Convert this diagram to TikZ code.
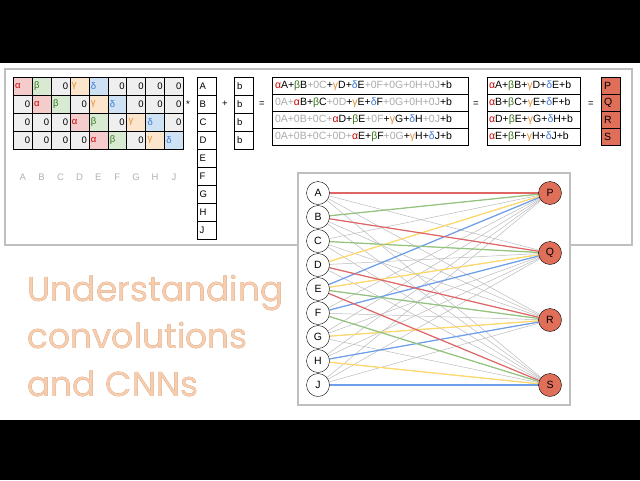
\documentclass[tikz,border=0pt]{standalone}
\usepackage{fontspec}
\setmainfont{Liberation Sans}
\newfontfamily\titlefont{Poppins}
\usepackage[outline]{contour}
\contourlength{0.6pt}
\definecolor{ca}{HTML}{CC0000}\definecolor{cb}{HTML}{38761D}
\definecolor{cg}{HTML}{E69138}\definecolor{cd}{HTML}{3C78D8}
\definecolor{cz}{HTML}{AAAAAA}
\definecolor{fa}{HTML}{F4CCCC}\definecolor{fb}{HTML}{D9EAD3}
\definecolor{fg}{HTML}{FCE5CD}\definecolor{fd}{HTML}{CFE2F3}\definecolor{fz}{HTML}{EFEFEF}
\definecolor{ea}{HTML}{E06666}\definecolor{eb}{HTML}{93C47D}
\definecolor{eg}{HTML}{FFD966}\definecolor{ed}{HTML}{6D9EEB}\definecolor{ez}{HTML}{BBBBBB}
\definecolor{salmon}{HTML}{E06F5A}\definecolor{ttl}{HTML}{C0743F}\definecolor{ttf}{HTML}{F6CDAE}
\newcommand{\A}{\textcolor{ca}{α}}\newcommand{\B}{\textcolor{cb}{β}}
\newcommand{\G}{\textcolor{cg}{γ}}\newcommand{\D}{\textcolor{cd}{δ}}
\newcommand{\Z}[1]{\textcolor{cz}{#1}}
\expandafter\def\csname cva\endcsname{\textcolor{ca}{α}}
\expandafter\def\csname cvb\endcsname{\textcolor{cb}{β}}
\expandafter\def\csname cvg\endcsname{\textcolor{cg}{γ}}
\expandafter\def\csname cvd\endcsname{\textcolor{cd}{δ}}
\expandafter\def\csname cvz\endcsname{\hfill 0}
\newcommand{\ttline}[1]{\contour{ttl}{\textcolor{ttf}{#1}}}
\begin{document}
\begin{tikzpicture}[x=1pt,y=-1pt,font=\fontsize{9.5}{10}\selectfont,
  cell/.style={draw=black,line width=0.6pt,minimum width=18.9pt,minimum height=18pt,inner sep=1.5pt,anchor=center,text width=15pt,align=left},
  vec/.style={draw=black,line width=0.6pt,minimum width=19pt,minimum height=18pt,inner sep=2pt,text width=14pt,align=left},
  row/.style={draw=black,line width=0.6pt,minimum height=17pt,inner sep=2pt,align=left,font=\fontsize{10.5}{11}\selectfont},
  lnode/.style={circle,draw=black,fill=white,minimum size=23pt,inner sep=0pt,font=\fontsize{10.5}{10}\selectfont},
  rnode/.style={circle,draw=black,fill=salmon,minimum size=23pt,inner sep=0pt,font=\fontsize{10.5}{10}\selectfont},
  edge/.style={line width=1.2pt},
  op/.style={font=\fontsize{9.5}{10}\selectfont}]
\useasboundingbox (0,0) rectangle (640,480);
\fill[black] (0,0) rectangle (640,480);
\fill[white] (0,63) rectangle (640,420);
\draw[black!25,line width=1.2pt] (5,69) rectangle (632,245);
\fill[white] (6,70) rectangle (631,244);
% matrix
\foreach \r/\row in {0/{a,b,z,g,d,z,z,z,z},1/{z,a,b,z,g,d,z,z,z},2/{z,z,z,a,b,z,g,d,z},3/{z,z,z,z,a,b,z,g,d}}{
  \foreach \c [count=\i from 0] in \row {
    \pgfmathsetmacro{\xx}{13.3+18.9*\i+9.45}
    \pgfmathsetmacro{\yy}{77+18*\r+9}
    \node[cell,fill=f\c] (m\r\i) at (\xx,\yy) {\csname cv\c\endcsname};
  }
}
\foreach \L [count=\i from 0] in {A,B,C,D,E,F,G,H,J}{
  \pgfmathsetmacro{\xx}{13.3+18.9*\i+9.45}
  \node[text=black!30] (cl\i) at (\xx,177) {\L};
  \pgfmathsetmacro{\yy}{77+18*\i+9}
  \node[vec] (v\i) at (206.5,\yy) {\L};
}
\foreach \i in {0,...,3}{
  \pgfmathsetmacro{\yy}{77+18*\i+9}
  \node[vec] (b\i) at (244,\yy) {b};
}
\node[op] (star) at (188,104) {*};
\node[op] (plus) at (225,104) {+};
\node[op] (eq1) at (262,104) {=};
% expanded rows
\foreach \i/\t in {0/{\A A+\B B\Z{+0C}+\G D+\D E\Z{+0F+0G+0H+0J}+b},
                   1/{\Z{0A+}\A B+\B C\Z{+0D}+\G E+\D F\Z{+0G+0H+0J}+b},
                   2/{\Z{0A+0B+0C+}\A D+\B E\Z{+0F}+\G G+\D H\Z{+0J}+b},
                   3/{\Z{0A+0B+0C+0D+}\A E+\B F\Z{+0G}+\G H+\D J+b}}{
  \pgfmathsetmacro{\yy}{77+17*\i+8.5}
  \node[row,minimum width=196pt,text width=190pt] (e\i) at (370,\yy) {\t};
}
\node[op] (eq2) at (476,104) {=};
\foreach \i/\t in {0/{\A A+\B B+\G D+\D E+b},1/{\A B+\B C+\G E+\D F+b},2/{\A D+\B E+\G G+\D H+b},3/{\A E+\B F+\G H+\D J+b}}{
  \pgfmathsetmacro{\yy}{77+17*\i+8.5}
  \node[row,minimum width=93pt,text width=89pt,inner sep=2pt] (s\i) at (533.5,\yy) {\t};
}
\node[op] (eq3) at (591,104) {=};
\foreach \L [count=\i from 0] in {P,Q,R,S}{
  \pgfmathsetmacro{\yy}{77+17*\i+8.5}
  \node[row,fill=salmon,minimum width=19pt,text width=13pt] (o\i) at (610.5,\yy) {\L};
}
% graph panel
\draw[black!25,line width=1.2pt] (298,173) rectangle (570,405);
\fill[white] (299,174) rectangle (569,404);
\foreach \L [count=\i from 0] in {A,B,C,D,E,F,G,H,J}{
  \pgfmathsetmacro{\yy}{193+24*\i}
  \coordinate (L\L) at (318,\yy);
}
\coordinate (RP) at (550,193);\coordinate (RQ) at (550,253);
\coordinate (RR) at (550,320);\coordinate (RS) at (550,385);
\foreach \r in {P,Q,R,S}\foreach \l in {A,B,C,D,E,F,G,H,J}{\draw[ez,line width=0.5pt] (L\l) -- (R\r);}
\foreach \l/\r/\c in {A/P/ea,B/P/eb,D/P/eg,E/P/ed,B/Q/ea,C/Q/eb,E/Q/eg,F/Q/ed,D/R/ea,E/R/eb,G/R/eg,H/R/ed,E/S/ea,F/S/eb,H/S/eg,J/S/ed}
  {\draw[edge,color=\c] (L\l) -- (R\r);}
\foreach \L in {A,B,C,D,E,F,G,H,J}{\node[lnode] (n\L) at (L\L) {\L};}
\foreach \L in {P,Q,R,S}{\node[rnode] (n\L) at (R\L) {\L};}
% title
\node[anchor=west,align=left,font=\titlefont\fontsize{34.5}{47.5}\selectfont] (title) at (24,336)
 {\ttline{Understanding}\\\ttline{convolutions}\\\ttline{and CNNs}};
\end{tikzpicture}
\end{document}
